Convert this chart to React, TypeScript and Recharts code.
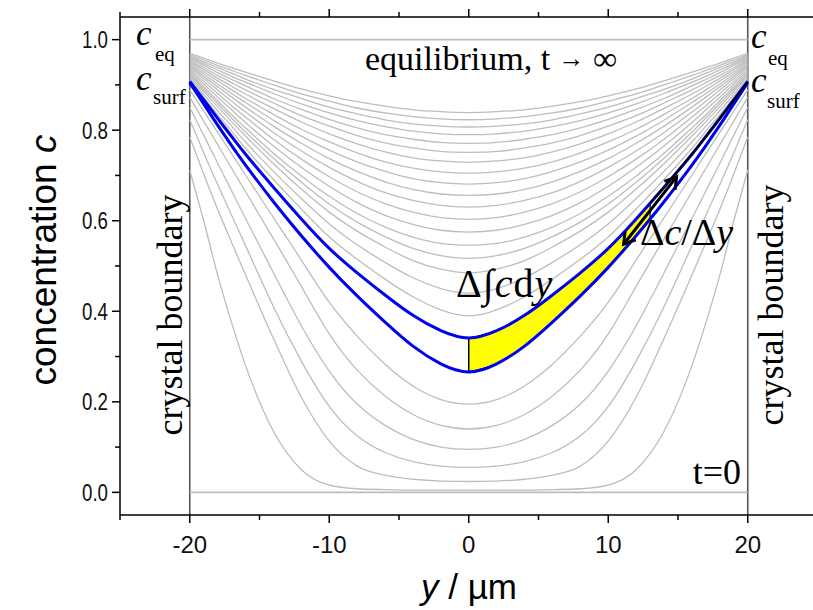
import React from 'react';
import { ComposedChart, Line, Area, XAxis, YAxis, ReferenceLine } from 'recharts';

// |y| sample positions (µm); profiles are symmetric about y = 0
const X_HALF = [0, 2, 4, 6, 8, 10, 12, 14, 16, 17, 18, 19, 20];

// early profiles (below the blue pair), values at X_HALF
const earlyProfiles: number[][] = [
  [0.005, 0.005, 0.005, 0.006, 0.008, 0.016, 0.05, 0.135, 0.28, 0.375, 0.48, 0.6, 0.712],
  [0.024, 0.025, 0.029, 0.038, 0.058, 0.113, 0.21, 0.34, 0.48, 0.552, 0.625, 0.703, 0.785],
  [0.055, 0.058, 0.068, 0.088, 0.125, 0.19, 0.29, 0.41, 0.545, 0.612, 0.68, 0.75, 0.823],
  [0.095, 0.1, 0.117, 0.148, 0.195, 0.268, 0.368, 0.485, 0.605, 0.666, 0.727, 0.789, 0.85],
  [0.14, 0.148, 0.172, 0.213, 0.27, 0.35, 0.455, 0.56, 0.664, 0.716, 0.768, 0.82, 0.873],
  [0.195, 0.205, 0.235, 0.283, 0.345, 0.42, 0.513, 0.607, 0.701, 0.748, 0.795, 0.842, 0.889],
];

// highlighted pair
const blueLower = [0.266, 0.284, 0.323, 0.376, 0.434, 0.497, 0.567, 0.642, 0.723, 0.766, 0.811, 0.858, 0.905];
const blueUpper = [0.341, 0.357, 0.391, 0.436, 0.485, 0.539, 0.604, 0.674, 0.747, 0.786, 0.826, 0.867, 0.908];

// later profiles (above the blue pair)
const lateProfiles: number[][] = [
  [0.39, 0.403, 0.432, 0.471, 0.515, 0.564, 0.626, 0.691, 0.76, 0.798, 0.834, 0.873, 0.912],
  [0.44, 0.45, 0.474, 0.508, 0.547, 0.593, 0.649, 0.709, 0.774, 0.809, 0.843, 0.879, 0.916],
  [0.485, 0.493, 0.512, 0.542, 0.577, 0.619, 0.67, 0.726, 0.787, 0.819, 0.852, 0.886, 0.92],
  [0.517, 0.523, 0.539, 0.565, 0.597, 0.637, 0.685, 0.738, 0.796, 0.827, 0.859, 0.891, 0.924],
  [0.546, 0.55, 0.564, 0.586, 0.616, 0.654, 0.699, 0.749, 0.805, 0.834, 0.865, 0.896, 0.928],
  [0.575, 0.579, 0.592, 0.612, 0.64, 0.676, 0.718, 0.765, 0.817, 0.845, 0.873, 0.902, 0.932],
  [0.603, 0.607, 0.619, 0.638, 0.664, 0.697, 0.736, 0.78, 0.829, 0.854, 0.881, 0.908, 0.936],
  [0.63, 0.634, 0.645, 0.662, 0.687, 0.718, 0.754, 0.795, 0.84, 0.864, 0.889, 0.914, 0.94],
  [0.656, 0.659, 0.669, 0.686, 0.709, 0.737, 0.771, 0.809, 0.851, 0.873, 0.896, 0.919, 0.943],
  [0.681, 0.684, 0.693, 0.709, 0.73, 0.756, 0.787, 0.822, 0.861, 0.881, 0.902, 0.924, 0.946],
  [0.705, 0.708, 0.716, 0.73, 0.75, 0.774, 0.802, 0.835, 0.87, 0.889, 0.909, 0.929, 0.949],
  [0.729, 0.732, 0.739, 0.752, 0.77, 0.792, 0.818, 0.848, 0.88, 0.897, 0.915, 0.934, 0.952],
  [0.751, 0.753, 0.761, 0.772, 0.788, 0.809, 0.832, 0.86, 0.889, 0.905, 0.921, 0.938, 0.955],
  [0.771, 0.773, 0.78, 0.79, 0.805, 0.824, 0.846, 0.87, 0.898, 0.912, 0.927, 0.943, 0.958],
  [0.79, 0.792, 0.798, 0.808, 0.821, 0.838, 0.858, 0.881, 0.906, 0.919, 0.933, 0.947, 0.961],
  [0.807, 0.809, 0.814, 0.823, 0.836, 0.851, 0.87, 0.89, 0.913, 0.926, 0.938, 0.951, 0.964],
  [0.823, 0.825, 0.83, 0.838, 0.849, 0.864, 0.88, 0.9, 0.921, 0.932, 0.943, 0.955, 0.967],
  [0.839, 0.841, 0.845, 0.853, 0.863, 0.876, 0.891, 0.909, 0.928, 0.938, 0.948, 0.959, 0.97],
];

// yellow band between the blue pair (right half)
const bandX = [0, 2, 4, 6, 8, 10, 12, 13];
const bandLow = [0.266, 0.284, 0.323, 0.376, 0.434, 0.497, 0.567, 0.604];
const bandHigh = [0.341, 0.357, 0.391, 0.436, 0.485, 0.539, 0.604, 0.639];

// black edge along the upper curve beyond the band
const edgeX = [13, 14, 16, 17, 18, 19, 20];
const edgeC = [0.639, 0.674, 0.747, 0.786, 0.826, 0.867, 0.908];

// double arrow Δc/Δy
const arrowX = [11.1, 14.9];
const arrowC = [0.548, 0.697];

// limiting lines
const flatX = [-20, 20];
const equilibriumC = [1, 1];
const initialC = [0, 0];
const boundaries = [-20, 20];

const X_TICKS = [-25, -20, -15, -10, -5, 0, 5, 10, 15, 20, 25];
const X_LABELED = [-20, -10, 0, 10, 20];
const Y_TICKS = [0, 0.1, 0.2, 0.3, 0.4, 0.5, 0.6, 0.7, 0.8, 0.9, 1.0];
const Y_LABELED = [0, 0.2, 0.4, 0.6, 0.8, 1.0];

const SANS = "'Liberation Sans', Arial, sans-serif";
const SERIF = "'Liberation Serif', 'Times New Roman', serif";

const mirror = (vals: number[]) => {
  const pts: { x: number; c: number }[] = [];
  for (let i = X_HALF.length - 1; i > 0; i--) pts.push({ x: -X_HALF[i], c: vals[i] });
  for (let i = 0; i < X_HALF.length; i++) pts.push({ x: X_HALF[i], c: vals[i] });
  return pts;
};
const pair = (xs: number[], cs: number[]) => xs.map((x, i) => ({ x, c: cs[i] }));

const bandData = bandX.map((x, i) => ({ x, band: [bandLow[i], bandHigh[i]] }));

const isMajorX = (v: number) => X_LABELED.indexOf(v) >= 0;
const isMajorY = (v: number) => Y_LABELED.some((m) => Math.abs(m - v) < 1e-9);

const BottomTick = (props: any) => {
  const { x, y, payload } = props;
  const v = payload.value;
  const major = isMajorX(v);
  return (
    <g>
      <line x1={x} x2={x} y1={y} y2={y + (major ? 8 : 5)} stroke="#000" strokeWidth={1.5} />
      {major && (
        <text x={x} y={y + 38} textAnchor="middle" fontFamily={SANS} fontSize={24} fill="#111">
          {v}
        </text>
      )}
    </g>
  );
};

const TopTick = (props: any) => {
  const { x, y, payload } = props;
  const major = isMajorX(payload.value);
  return <line x1={x} x2={x} y1={y} y2={y - (major ? 8 : 5)} stroke="#000" strokeWidth={1.5} />;
};

const LeftTick = (props: any) => {
  const { x, y, payload } = props;
  const v = payload.value;
  const major = isMajorY(v);
  return (
    <g>
      <line x1={x - (major ? 8 : 5)} x2={x} y1={y} y2={y} stroke="#000" strokeWidth={1.5} />
      {major && (
        <text
          x={x - 12}
          y={y + 8.5}
          textAnchor="end"
          fontFamily={SANS}
          fontSize={24}
          textLength={26}
          lengthAdjust="spacingAndGlyphs"
          fill="#111"
        >
          {v.toFixed(1)}
        </text>
      )}
    </g>
  );
};

// arrowhead drawn at each end of the arrow series, oriented from the opposite end
const ArrowDot = (props: any) => {
  const { cx, cy, index, points } = props;
  if (cx == null || cy == null) return <g key={'ad' + index} />;
  let ang: number;
  if (points && points.length === 2 && points[1 - index]) {
    const o = points[1 - index];
    ang = Math.atan2(cy - o.y, cx - o.x);
  } else {
    ang = index === 0 ? Math.atan2(1.3, -0.77) : Math.atan2(-1.3, 0.77);
  }
  const L = 13;
  const s = 0.55;
  const ax = cx - L * Math.cos(ang - s);
  const ay = cy - L * Math.sin(ang - s);
  const bx = cx - L * Math.cos(ang + s);
  const by = cy - L * Math.sin(ang + s);
  return (
    <path
      key={'ad' + index}
      d={`M${ax},${ay} L${cx},${cy} L${bx},${by}`}
      fill="none"
      stroke="#000"
      strokeWidth={3}
      strokeLinejoin="miter"
    />
  );
};

const GRAY = '#bdbdbd';
const BLUE = '#0000f0';

export default function App() {
  return (
    <div style={{ position: 'absolute', left: 0, top: 0, width: 813, height: 610, overflow: 'hidden', background: '#fff' }}>
      <ComposedChart width={830} height={610} margin={{ top: 16, right: 12.5, bottom: 0, left: 0 }}>
        <XAxis
          dataKey="x"
          type="number"
          domain={[-25, 25]}
          ticks={X_TICKS}
          interval={0}
          allowDataOverflow
          height={95}
          tickLine={false}
          tickSize={0}
          tickMargin={0}
          tick={<BottomTick />}
          axisLine={{ stroke: '#000', strokeWidth: 1.5 }}
        />
        <XAxis
          xAxisId="top"
          orientation="top"
          dataKey="x"
          type="number"
          domain={[-25, 25]}
          ticks={X_TICKS}
          interval={0}
          allowDataOverflow
          height={1}
          tickLine={false}
          tickSize={0}
          tickMargin={0}
          tick={<TopTick />}
          axisLine={{ stroke: '#000', strokeWidth: 1.5 }}
        />
        <YAxis
          type="number"
          domain={[-0.05, 1.05]}
          ticks={Y_TICKS}
          interval={0}
          allowDataOverflow
          width={120}
          tickLine={false}
          tickSize={0}
          tickMargin={0}
          tick={<LeftTick />}
          axisLine={{ stroke: '#000', strokeWidth: 1.5 }}
        />
        {boundaries.map((b) => (
          <ReferenceLine key={'b' + b} x={b} stroke="#555" strokeWidth={1.6} />
        ))}
        <Line data={pair(flatX, equilibriumC)} dataKey="c" type="linear" dot={false} stroke={GRAY} strokeWidth={1.6} isAnimationActive={false} />
        <Line data={pair(flatX, initialC)} dataKey="c" type="linear" dot={false} stroke={GRAY} strokeWidth={1.6} isAnimationActive={false} />
        {earlyProfiles.map((p, i) => (
          <Line key={'e' + i} data={mirror(p)} dataKey="c" type={i < 2 ? 'monotone' : 'natural'} dot={false} stroke={GRAY} strokeWidth={1.3} isAnimationActive={false} />
        ))}
        {lateProfiles.map((p, i) => (
          <Line key={'l' + i} data={mirror(p)} dataKey="c" type="natural" dot={false} stroke={GRAY} strokeWidth={1.3} isAnimationActive={false} />
        ))}
        <Area data={bandData} dataKey="band" type="natural" fill="#ffff00" fillOpacity={1} stroke="#000" strokeWidth={1.2} isAnimationActive={false} />
        <ReferenceLine segment={[{ x: 0, y: bandLow[0] }, { x: 0, y: bandHigh[0] }]} stroke="#000" strokeWidth={1.5} />
        <ReferenceLine segment={[{ x: 13, y: bandLow[7] }, { x: 13, y: bandHigh[7] }]} stroke="#000" strokeWidth={1.2} />
        <Line data={mirror(blueLower)} dataKey="c" type="natural" dot={false} stroke={BLUE} strokeWidth={3} isAnimationActive={false} />
        <Line data={mirror(blueUpper)} dataKey="c" type="natural" dot={false} stroke={BLUE} strokeWidth={3} isAnimationActive={false} />
        <Line data={pair(edgeX, edgeC)} dataKey="c" type="natural" dot={false} stroke="#000" strokeWidth={2} isAnimationActive={false} />
        <Line
          data={pair(arrowX, arrowC)}
          dataKey="c"
          type="linear"
          dot={ArrowDot}
          activeDot={false}
          stroke="#000"
          strokeWidth={3}
          isAnimationActive={false}
        />
      </ComposedChart>
      <svg width={813} height={610} style={{ position: 'absolute', left: 0, top: 0, pointerEvents: 'none' }}>
        {/* axis titles */}
        <text transform="translate(56,260) rotate(-90)" textAnchor="middle" fontFamily={SANS} fontSize={37} fill="#000">
          concentration <tspan fontStyle="italic">c</tspan>
        </text>
        <text x={469} y={599} textAnchor="middle" fontFamily={SANS} fontSize={35} fill="#000">
          <tspan fontStyle="italic">y</tspan> / µm
        </text>
        {/* annotations */}
        <text x={136} y={45} fontFamily={SERIF} fontSize={35} fontStyle="italic">c</text>
        <text x={155} y={61} fontFamily={SERIF} fontSize={21}>eq</text>
        <text x={136} y={90} fontFamily={SERIF} fontSize={35} fontStyle="italic">c</text>
        <text x={153} y={104} fontFamily={SERIF} fontSize={21}>surf</text>
        <text x={751} y={48} fontFamily={SERIF} fontSize={35} fontStyle="italic">c</text>
        <text x={768} y={65} fontFamily={SERIF} fontSize={21}>eq</text>
        <text x={751} y={92} fontFamily={SERIF} fontSize={35} fontStyle="italic">c</text>
        <text x={767} y={108} fontFamily={SERIF} fontSize={21}>surf</text>
        <text x={365} y={70} fontFamily={SERIF} fontSize={34}>
          equilibrium, t <tspan fontSize={26} dy={-3}>→</tspan><tspan dy={3}> ∞</tspan>
        </text>
        <text transform="translate(182,315) rotate(-90)" textAnchor="middle" fontFamily={SERIF} fontSize={36}>crystal boundary</text>
        <text transform="translate(783,305) rotate(-90)" textAnchor="middle" fontFamily={SERIF} fontSize={36}>crystal boundary</text>
        <text x={741} y={484} textAnchor="end" fontFamily={SERIF} fontSize={36}>t=0</text>
        <text x={456} y={297} fontFamily={SERIF} fontSize={40} letterSpacing={1}>
          Δ<tspan fontStyle="italic">∫c</tspan>d<tspan fontStyle="italic">y</tspan>
        </text>
        <text x={640} y={245} fontFamily={SERIF} fontSize={38}>
          Δ<tspan fontStyle="italic">c</tspan>/Δ<tspan fontStyle="italic">y</tspan>
        </text>
      </svg>
    </div>
  );
}
